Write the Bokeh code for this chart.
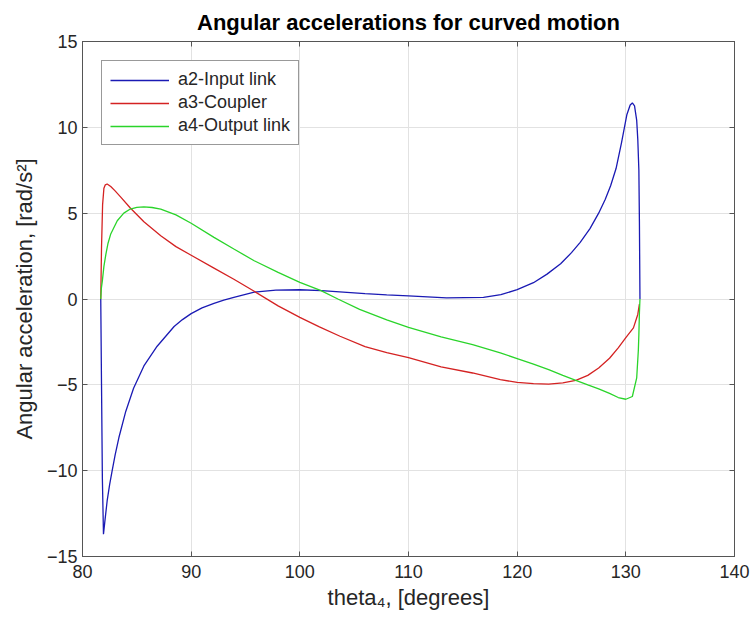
from bokeh.plotting import figure
from bokeh.models import LinearAxis, FixedTicker, CustomJSTickFormatter, Legend, LegendItem
from bokeh.embed import file_html
from bokeh.resources import INLINE

# ---- data ----
a2_x = [81.68, 81.75, 81.83, 81.93, 82.05, 82.27, 82.5, 82.73, 83.0, 83.35, 83.98, 84.7, 85.65,
        86.87, 88.43, 89.2, 90.0, 91.0, 92.1, 93.0, 93.93, 95.8, 97.8, 100.0, 102.0, 104.0, 106.0,
        108.0, 110.0, 113.5, 116.9, 118.5, 120.0, 121.5, 122.75, 124.0, 125.0, 125.8, 126.7,
        127.5, 128.1, 128.6, 129.1, 129.6, 130.1, 130.4, 130.6, 130.8, 131.0, 131.1, 131.2,
        131.25, 131.3]
a2_y = [0.0, -5.0, -10.5, -13.7, -13.0, -11.75, -10.8, -10.0, -9.1, -8.07, -6.55, -5.2, -3.9,
        -2.75, -1.6, -1.2, -0.85, -0.52, -0.25, -0.06, 0.1, 0.4, 0.52, 0.54, 0.49, 0.40, 0.31,
        0.24, 0.18, 0.07, 0.09, 0.25, 0.55, 0.95, 1.45, 2.05, 2.7, 3.3, 4.1,
        5.0, 5.8, 6.6, 7.6, 9.1, 10.75, 11.3, 11.42, 11.25, 10.4, 9.3, 7.5,
        4.5, 0.0]

a3_x = [81.68, 81.75, 81.85, 81.97, 82.1, 82.27, 82.6, 83.0, 83.5, 84.4, 85.65, 87.2, 88.6,
        90.0, 92.1, 93.93, 95.8, 98.0, 100.0, 101.8, 103.7, 106.0, 108.0, 110.0, 113.0, 115.9,
        118.45, 120.0, 121.5, 122.9, 124.2, 125.4, 126.5, 127.5, 128.5, 129.3, 130.0, 130.7,
        131.1, 131.25]
a3_y = [0.0, 3.0, 5.5, 6.45, 6.65, 6.7, 6.55, 6.3, 5.95, 5.3, 4.5, 3.68, 3.05,
        2.55, 1.8, 1.15, 0.45, -0.4, -1.07, -1.62, -2.17, -2.78, -3.12, -3.42, -3.95, -4.31,
        -4.7, -4.86, -4.93, -4.96, -4.88, -4.74, -4.45, -4.02, -3.45, -2.85, -2.25, -1.68,
        -0.9, -0.3]

a4_x = [81.68, 81.73, 81.83, 81.97, 82.15, 82.35, 82.6, 83.2, 83.8, 84.4, 85.0, 85.65, 86.4,
        87.2, 88.6, 90.0, 92.1, 93.93, 95.8, 98.0, 100.0, 101.9, 103.5, 105.5, 108.0, 110.0,
        113.0, 115.9, 118.45, 120.0, 121.5, 122.9, 124.2, 125.4, 126.5, 127.5, 128.5, 129.3,
        130.0, 130.6, 131.0, 131.15, 131.2, 131.25, 131.3]
a4_y = [0.0, 0.6, 1.07, 1.9, 2.6, 3.25, 3.79, 4.56, 5.0, 5.24, 5.34, 5.37, 5.33,
        5.24, 4.9, 4.41, 3.59, 2.91, 2.23, 1.55, 0.97, 0.5, 0.0, -0.6, -1.22, -1.65,
        -2.2, -2.66, -3.14, -3.47, -3.8, -4.12, -4.45, -4.74, -5.0, -5.23, -5.5, -5.74,
        -5.84, -5.68, -4.6, -3.0, -2.06, -0.8, 0.0]

x_ticks = [80, 90, 100, 110, 120, 130, 140]
y_ticks = [-15, -10, -5, 0, 5, 10, 15]
labels = ["a2-Input link", "a3-Coupler", "a4-Output link"]
colors = ["#1a1ab4", "#d42222", "#2ad42a"]

FONT = "Liberation Sans"
TXT = "#262626"
EDGE = "#555555"

p = figure(width=750, height=618, x_range=(80, 140), y_range=(-15, 15),
           output_backend="svg", toolbar_location=None,
           min_border_left=82, min_border_right=16, min_border_top=41, min_border_bottom=62,
           title="Angular accelerations for curved motion")

p.title.text_font = FONT
p.title.text_font_size = "22px"
p.title.text_font_style = "bold"
p.title.text_color = "#000000"
p.title.align = "center"
p.title.standoff = 14

p.outline_line_color = EDGE
p.outline_line_width = 1
p.background_fill_color = "white"
p.border_fill_color = "white"

p.xaxis.ticker = FixedTicker(ticks=x_ticks)
p.yaxis.ticker = FixedTicker(ticks=y_ticks)
p.xaxis.axis_label = "theta\u2084, [degrees]"
p.yaxis.axis_label = "Angular acceleration, [rad/s\u00b2]"

for ax in p.axis:
    ax.axis_line_color = EDGE
    ax.major_tick_in = 5
    ax.major_tick_out = 0
    ax.minor_tick_line_color = None
    ax.major_tick_line_color = EDGE
    ax.major_label_text_font = FONT
    ax.major_label_text_font_size = "18px"
    ax.major_label_text_color = TXT
    ax.axis_label_text_font = FONT
    ax.axis_label_text_font_size = "22px"
    ax.axis_label_text_font_style = "normal"
    ax.axis_label_text_color = TXT
p.xaxis.major_label_standoff = 8
p.xaxis.axis_label_standoff = 4
p.yaxis.major_label_standoff = 5
p.yaxis.axis_label_standoff = 7

empty = CustomJSTickFormatter(code="return ''")
top = LinearAxis(ticker=FixedTicker(ticks=x_ticks), formatter=empty, major_tick_in=5, major_tick_out=0,
                 minor_tick_line_color=None, axis_line_color=EDGE, major_tick_line_color=EDGE,
                 major_label_standoff=0, major_label_text_font_size="1px")
right = LinearAxis(ticker=FixedTicker(ticks=y_ticks), formatter=empty, major_tick_in=5, major_tick_out=0,
                   minor_tick_line_color=None, axis_line_color=EDGE, major_tick_line_color=EDGE,
                   major_label_standoff=0, major_label_text_font_size="1px")
p.add_layout(top, "above")
p.add_layout(right, "right")

p.xgrid.grid_line_color = "#e2e2e2"
p.ygrid.grid_line_color = "#e2e2e2"

r2 = p.line(a2_x, a2_y, line_color=colors[0], line_width=1.3)
r3 = p.line(a3_x, a3_y, line_color=colors[1], line_width=1.3)
r4 = p.line(a4_x, a4_y, line_color=colors[2], line_width=1.3)

legend = Legend(items=[LegendItem(label=labels[0], renderers=[r2]),
                       LegendItem(label=labels[1], renderers=[r3]),
                       LegendItem(label=labels[2], renderers=[r4])],
                location="top_left")
legend.margin = 19
legend.padding = 8
legend.spacing = 2
legend.glyph_width = 59
legend.glyph_height = 18
legend.label_height = 18
legend.label_standoff = 9
legend.label_text_font = FONT
legend.label_text_font_size = "18px"
legend.label_text_color = TXT
legend.border_line_color = "#333333"
legend.border_line_width = 1
legend.background_fill_color = "white"
legend.background_fill_alpha = 1
p.add_layout(legend, "center")

open("out.html", "w").write(file_html(p, INLINE))
